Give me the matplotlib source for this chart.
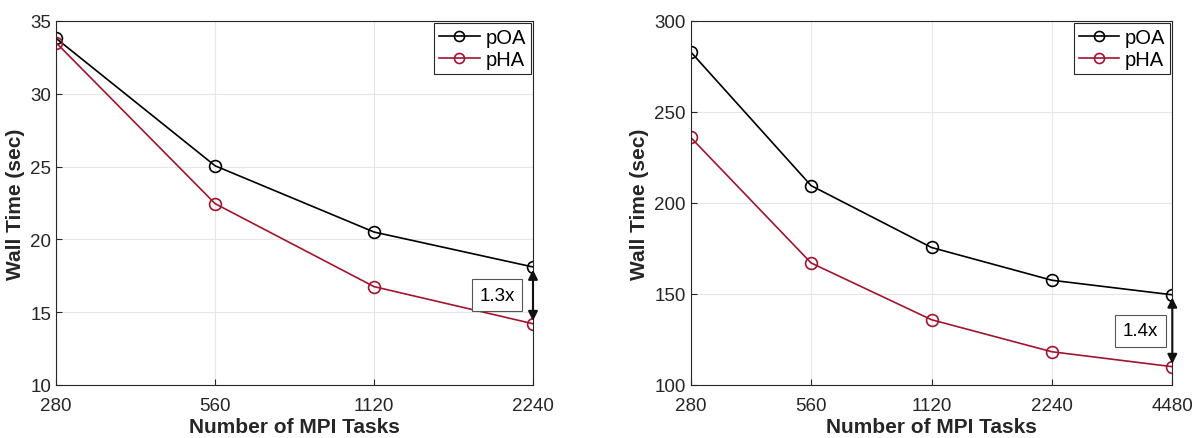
import matplotlib
matplotlib.use('Agg')
import matplotlib.pyplot as plt
from matplotlib.ticker import FixedLocator, NullLocator

plt.rcParams['font.family'] = ['Liberation Sans', 'DejaVu Sans']

# left panel
tasks_a = [280, 560, 1120, 2240]
poa_a = [33.8, 25.05, 20.5, 18.1]
pha_a = [33.5, 22.45, 16.75, 14.2]
ticks_a = [10, 15, 20, 25, 30, 35]
speedup_a = '1.3x'

# right panel
tasks_b = [280, 560, 1120, 2240, 4480]
poa_b = [283, 209.5, 175.5, 157.5, 149.5]
pha_b = [236, 167, 135.8, 118.2, 110]
ticks_b = [100, 150, 200, 250, 300]
speedup_b = '1.4x'

RED = '#A2142F'

fig = plt.figure(figsize=(11.95, 4.39), dpi=100)
ax1 = fig.add_axes([0.047, 0.121, 0.399, 0.829])
ax2 = fig.add_axes([0.578, 0.121, 0.403, 0.829])


def panel(ax, x, poa, pha, yticks, label, text_dx):
    ax.plot(x, poa, '-o', color='black', mfc='none', ms=8.5, mew=1.2, lw=1.2, label='pOA')
    ax.plot(x, pha, '-o', color=RED, mfc='none', ms=8.5, mew=1.2, lw=1.2, label='pHA')
    ax.set_xscale('log')
    ax.xaxis.set_major_locator(FixedLocator(x))
    ax.xaxis.set_minor_locator(NullLocator())
    ax.set_xticklabels([str(v) for v in x])
    ax.set_xlim(x[0], x[-1])
    ax.set_yticks(yticks)
    ax.set_ylim(yticks[0], yticks[-1])
    ax.grid(True, color='#e6e6e6', lw=0.8)
    ax.set_axisbelow(True)
    for s in ax.spines.values():
        s.set_color('#262626')
        s.set_linewidth(0.8)
    ax.tick_params(labelsize=13.5, direction='in', length=4, colors='#262626')
    ax.tick_params(axis='x', pad=9)
    ax.set_xlabel('Number of MPI Tasks', fontsize=15, fontweight='bold', color='#262626',
                  labelpad=2)
    ax.set_ylabel('Wall Time (sec)', fontsize=15, fontweight='bold', color='#262626')
    ax.annotate('', xy=(x[-1], pha[-1]), xytext=(x[-1], poa[-1]),
                arrowprops=dict(arrowstyle='<|-|>', color='#111111', lw=1.5,
                                mutation_scale=14, shrinkA=2, shrinkB=2))
    ax.text(x[-1] / text_dx, (poa[-1] + pha[-1]) / 2, label, fontsize=13.5,
            ha='center', va='center',
            bbox=dict(boxstyle='square,pad=0.4', fc='white', ec='#555555', lw=0.8))
    leg = ax.legend(loc='upper right', fontsize=14.5, fancybox=False, framealpha=1,
                    edgecolor='#262626', borderaxespad=0.1, handlelength=2.0,
                    handletextpad=0.3, borderpad=0.25, labelspacing=0.15,
                    markerscale=0.85)
    leg.get_frame().set_linewidth(0.8)


panel(ax1, tasks_a, poa_a, pha_a, ticks_a, speedup_a, 1.17)
panel(ax2, tasks_b, poa_b, pha_b, ticks_b, speedup_b, 1.2)

fig.savefig('out.png', dpi=100)
